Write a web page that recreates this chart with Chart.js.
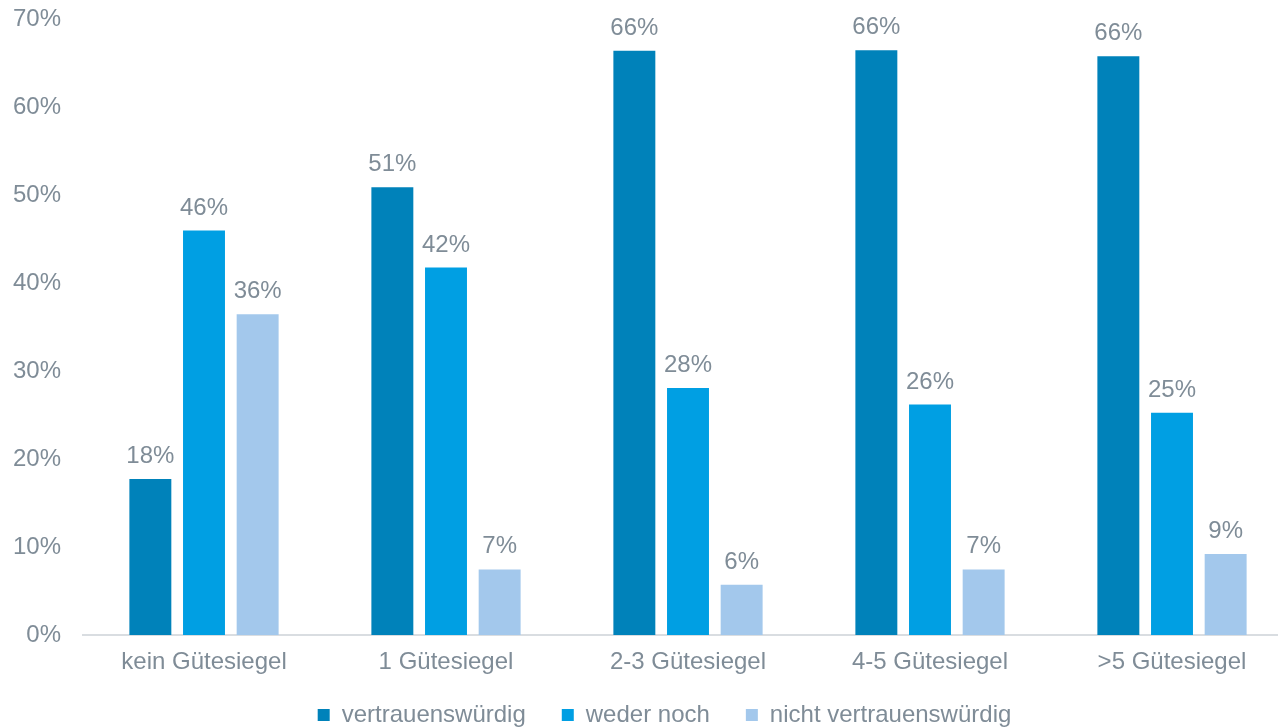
<!DOCTYPE html>
<html>
<head>
<meta charset="utf-8">
<script src="https://cdn.jsdelivr.net/npm/chart.js@4/dist/chart.umd.min.js"></script>
<style>
  html, body { margin: 0; padding: 0; background: #fff; overflow: hidden; }
  .wrap { width: 1278px; height: 727px; overflow: hidden; position: relative; }
  .wrap div { position: absolute; left: 0; top: -17px; width: 1300px; height: 744px; }
</style>
</head>
<body>
<div class="wrap"><div><canvas id="guetesiegelChart" width="1300" height="744"></canvas></div></div>
<script>
// Daten
const kategorien = ['kein Gütesiegel', '1 Gütesiegel', '2-3 Gütesiegel', '4-5 Gütesiegel', '>5 Gütesiegel'];
const vertrauenswuerdig = [17.73, 50.91, 66.44, 66.49, 65.8];
const wederNoch = [45.99, 41.78, 28.1, 26.2, 25.26];
const nichtVertrauenswuerdig = [36.48, 7.45, 5.72, 7.45, 9.2];
const yTicks = [0, 10, 20, 30, 40, 50, 60, 70];

const textFarbe = '#7f8c97';
const schrift = { family: '"Liberation Sans", Arial, sans-serif', size: 24 };

// Werte über den Balken
const wertLabels = {
    id: 'wertLabels',
    afterDatasetsDraw(chart) {
        const ctx = chart.ctx;
        ctx.save();
        ctx.font = '24px "Liberation Sans", Arial, sans-serif';
        ctx.fillStyle = textFarbe;
        ctx.textAlign = 'center';
        ctx.textBaseline = 'alphabetic';
        chart.data.datasets.forEach((ds, i) => {
            chart.getDatasetMeta(i).data.forEach((bar, j) => {
                ctx.fillText(Math.round(ds.data[j]) + '%', bar.x, bar.y - 16);
            });
        });
        ctx.restore();
    }
};

// Legende: kleine Höhe im Layout, danach an die Stelle wie im Original schieben
const legendePosition = {
    id: 'legendePosition',
    beforeInit(chart) {
        const fit = chart.legend.fit;
        chart.legend.fit = function() {
            fit.bind(chart.legend)();
            this.height = 20;
        };
    },
    afterLayout(chart) {
        const lg = chart.legend;
        lg.left += 18;
        lg.right += 18;
        lg.top = 684;
        lg.height = 70;
        lg.bottom = lg.top + lg.height;
    }
};

new Chart(document.getElementById('guetesiegelChart').getContext('2d'), {
    type: 'bar',
    data: {
        labels: kategorien,
        datasets: [
            { label: 'vertrauenswürdig', data: vertrauenswuerdig, backgroundColor: '#0082ba' },
            { label: 'weder noch', data: wederNoch, backgroundColor: '#009fe3' },
            { label: 'nicht vertrauenswürdig', data: nichtVertrauenswuerdig, backgroundColor: '#a3c8ec' }
        ]
    },
    options: {
        responsive: false,
        animation: false,
        layout: { padding: { top: 4, left: 0, right: 7, bottom: 0 } },
        datasets: {
            bar: { categoryPercentage: 0.665, barPercentage: 0.782 }
        },
        scales: {
            x: {
                grid: { display: false, drawTicks: false },
                border: { display: true, color: '#d9dde1', width: 2 },
                ticks: { color: textFarbe, font: schrift, padding: 13, maxRotation: 0 },
                afterFit(scale) { scale.height = 72; }
            },
            y: {
                min: 0,
                max: 70,
                afterBuildTicks(scale) { scale.ticks = yTicks.map(v => ({ value: v })); },
                grid: { display: false, drawTicks: false },
                border: { display: false },
                ticks: {
                    color: textFarbe,
                    font: schrift,
                    padding: 22,
                    callback: v => v + '%'
                },
                afterFit(scale) { scale.width = 83; }
            }
        },
        plugins: {
            legend: {
                position: 'bottom',
                labels: {
                    color: textFarbe,
                    font: schrift,
                    boxWidth: 12,
                    boxHeight: 12,
                    padding: 36
                }
            },
            tooltip: { enabled: false }
        }
    },
    plugins: [wertLabels, legendePosition]
});
</script>
</body>
</html>
